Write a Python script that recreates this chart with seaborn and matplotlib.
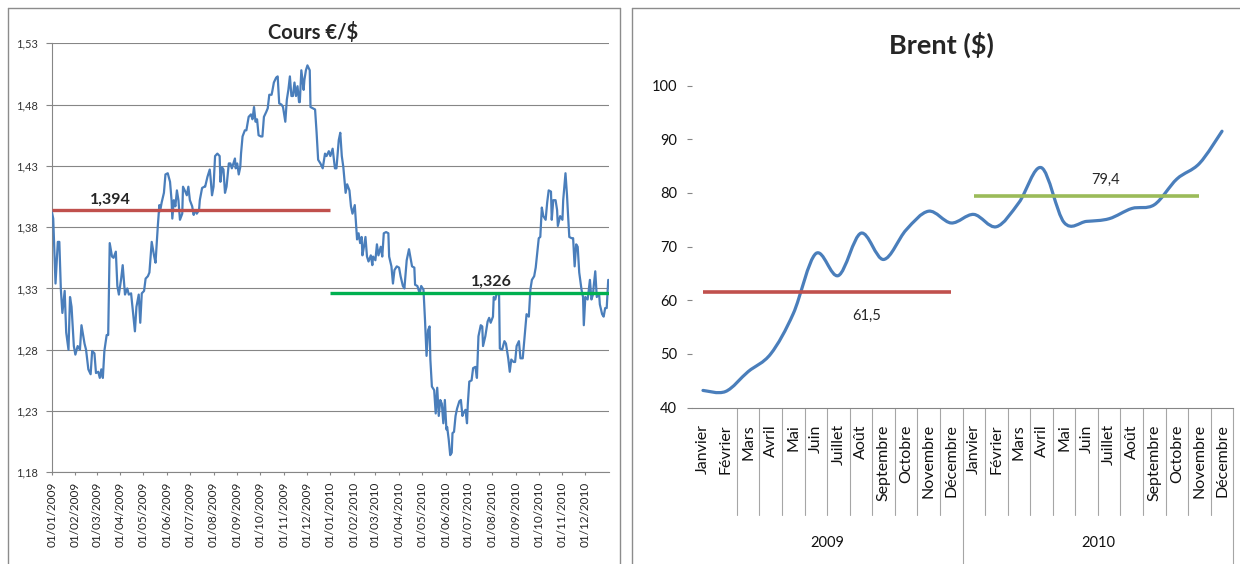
import numpy as np
import pandas as pd
import matplotlib
matplotlib.use("Agg")
import matplotlib.pyplot as plt
import matplotlib.dates as mdates
from matplotlib.path import Path
from matplotlib.patches import PathPatch
from matplotlib.lines import Line2D
import seaborn as sns

# ---------------- DATA ----------------
# EUR/USD: day offsets from 2009-01-01 and rate values
eur_day = [0, 2, 5, 8, 10, 12, 14, 17, 19, 22, 24, 26, 29, 31, 34, 37, 39, 43, 45, 48,
           51, 53, 56, 58, 61, 63, 65, 67, 69, 72, 74, 76, 79, 81, 84, 86, 88, 91, 93, 96,
           99, 101, 104, 107, 109, 111, 114, 116, 118, 121, 123, 126, 128, 131, 134, 136, 139, 141, 142, 144,
           147, 149, 152, 155, 157, 158, 160, 162, 164, 166, 168, 171, 172, 175, 177, 179, 181, 184, 186, 187,
           190, 193, 194, 197, 200, 201, 204, 207, 208, 210, 212, 214, 217, 220, 221, 223, 225, 227, 229, 232,
           234, 236, 238, 240, 241, 243, 245, 247, 248, 250, 253, 255, 258, 261, 263, 265, 267, 269, 271, 274,
           276, 278, 281, 283, 285, 288, 289, 291, 294, 296, 298, 301, 303, 306, 308, 310, 312, 314, 316, 318,
           320, 322, 324, 325, 327, 330, 331, 333, 335, 338, 339,
           345, 347, 349, 352, 355, 358, 360, 363, 365, 368, 371, 373, 376, 378, 380, 382, 385, 387, 390, 392,
           394, 397, 400, 402, 404, 406, 407, 409, 411, 413, 415, 418, 420, 421, 424, 426, 428, 431, 433, 435,
           438, 441, 442, 445, 447, 449, 452, 455, 457, 460, 462, 465, 468, 470, 472, 475, 476, 479, 482, 484,
           487, 489, 491, 493, 495, 496, 498, 501, 503, 505, 507, 509, 511, 513, 515, 517, 518, 520, 522, 524,
           525, 527, 529, 531, 534, 536, 538, 539, 542, 544, 545, 547, 550, 552, 555, 557, 559, 562, 564, 565,
           568, 571, 573, 575, 578, 579, 581, 583, 586, 587, 590, 593, 595, 598, 600, 602, 605, 607, 609, 612,
           614, 617, 620, 622, 625, 627, 629, 632, 634, 636, 638, 640, 642, 644, 647, 649, 651, 654, 655, 657,
           660, 662, 663, 666, 669, 670, 673, 675, 676, 678, 681, 683, 685, 687, 689, 691, 694, 696, 697, 699,
           702, 703, 705, 707, 709, 710, 712, 714, 717, 718, 721, 723, 725, 727, 729]
eur_val = [1.393, 1.387, 1.334, 1.368, 1.368, 1.329, 1.310, 1.328, 1.294, 1.280, 1.323, 1.315, 1.283, 1.276, 1.283, 1.280, 1.300, 1.285, 1.280, 1.264,
           1.260, 1.279, 1.277, 1.261, 1.262, 1.257, 1.264, 1.257, 1.279, 1.292, 1.292, 1.367, 1.356, 1.355, 1.360, 1.332, 1.325, 1.338, 1.349, 1.325,
           1.330, 1.325, 1.326, 1.307, 1.295, 1.315, 1.325, 1.302, 1.326, 1.328, 1.338, 1.340, 1.343, 1.368, 1.357, 1.351, 1.381, 1.398, 1.393, 1.400,
           1.408, 1.423, 1.424, 1.417, 1.402, 1.387, 1.402, 1.397, 1.410, 1.402, 1.386, 1.391, 1.413, 1.409, 1.406, 1.413, 1.402, 1.397, 1.390, 1.394,
           1.391, 1.394, 1.402, 1.412, 1.413, 1.413, 1.421, 1.427, 1.421, 1.406, 1.413, 1.438, 1.440, 1.438, 1.417, 1.429, 1.427, 1.408, 1.413, 1.432,
           1.432, 1.428, 1.432, 1.436, 1.428, 1.432, 1.423, 1.429, 1.440, 1.454, 1.459, 1.459, 1.470, 1.472, 1.468, 1.478, 1.466, 1.468, 1.455, 1.454,
           1.454, 1.470, 1.474, 1.477, 1.488, 1.488, 1.491, 1.498, 1.502, 1.503, 1.481, 1.480, 1.478, 1.466, 1.484, 1.492, 1.503, 1.487, 1.487, 1.498,
           1.487, 1.495, 1.482, 1.482, 1.508, 1.492, 1.500, 1.508, 1.512, 1.508, 1.478,
           1.476, 1.457, 1.435, 1.432, 1.428, 1.440, 1.438, 1.442, 1.438, 1.444, 1.428, 1.428, 1.451, 1.457, 1.438, 1.429, 1.408, 1.415, 1.410, 1.397,
           1.391, 1.398, 1.370, 1.375, 1.367, 1.372, 1.357, 1.364, 1.372, 1.356, 1.352, 1.357, 1.349, 1.356, 1.353, 1.366, 1.357, 1.364, 1.356, 1.375,
           1.376, 1.375, 1.356, 1.348, 1.334, 1.345, 1.348, 1.347, 1.340, 1.332, 1.330, 1.353, 1.362, 1.355, 1.348, 1.347, 1.333, 1.332, 1.326, 1.332,
           1.329, 1.304, 1.275, 1.296, 1.299, 1.272, 1.250, 1.247, 1.228, 1.249, 1.226, 1.239, 1.236, 1.220, 1.239, 1.215, 1.217, 1.207, 1.194, 1.196,
           1.212, 1.213, 1.226, 1.232, 1.238, 1.239, 1.226, 1.228, 1.231, 1.220, 1.235, 1.254, 1.255, 1.265, 1.266, 1.257, 1.291, 1.300, 1.299, 1.283,
           1.291, 1.303, 1.306, 1.302, 1.307, 1.323, 1.321, 1.326, 1.325, 1.281, 1.280, 1.287, 1.285, 1.273, 1.262, 1.272, 1.270, 1.270, 1.283, 1.287,
           1.273, 1.273, 1.294, 1.309, 1.307, 1.329, 1.337, 1.340, 1.347, 1.359, 1.371, 1.372, 1.396, 1.389, 1.386, 1.400, 1.410, 1.409, 1.386, 1.402,
           1.402, 1.394, 1.381, 1.389, 1.386, 1.402, 1.424, 1.406, 1.394, 1.372, 1.371, 1.371, 1.348, 1.366, 1.364, 1.343, 1.329, 1.323, 1.300, 1.323,
           1.321, 1.326, 1.337, 1.321, 1.325, 1.332, 1.344, 1.323, 1.326, 1.317, 1.309, 1.307, 1.314, 1.314, 1.337]
eur_avg_2009 = 1.394
eur_avg_2010 = 1.326
eur_avg_labels = ["1,394", "1,326"]
eur_yticks = [1.18, 1.23, 1.28, 1.33, 1.38, 1.43, 1.48, 1.53]

brent_months = ["Janvier", "Février", "Mars", "Avril", "Mai", "Juin", "Juillet", "Août",
                "Septembre", "Octobre", "Novembre", "Décembre"]
brent_years = ["2009", "2010"]
brent_val = [43.2, 43.0, 46.7, 50.0, 57.5, 68.7, 64.6, 72.5, 67.6, 73.1, 76.6, 74.4,
             76.0, 73.7, 78.2, 84.7, 74.5, 74.7, 75.2, 77.1, 77.8, 82.6, 85.5, 91.5]
brent_avg_2009 = 61.5
brent_avg_2010 = 79.4
brent_avg_labels = ["61,5", "79,4"]
brent_yticks = [40, 50, 60, 70, 80, 90, 100]

# ---------------- STYLE ----------------
sns.set_theme(style="white")
plt.rcParams["font.family"] = ["Lato", "DejaVu Sans"]

W, H = 1240, 564
fig = plt.figure(figsize=(W / 100, H / 100), dpi=100)
fig.patch.set_facecolor("white")


def fx(px):
    return px / W


def fy(py):
    return 1 - py / H


GRID = "#868686"
BORDER = "#8C8C8C"

# ---------------- LEFT: EUR/USD ----------------
ax1 = fig.add_axes([fx(51.7), fy(472.3), 557.3 / W, 429.0 / H])
start = pd.Timestamp("2009-01-01")
eur_dates = start + pd.to_timedelta(eur_day, unit="D")
df_eur = pd.DataFrame({"date": eur_dates, "val": eur_val})
sns.lineplot(data=df_eur, x="date", y="val", ax=ax1, color="#4A7EBB",
             linewidth=1.6, zorder=3)
ax1.plot([pd.Timestamp("2009-01-01"), pd.Timestamp("2010-01-01")], [eur_avg_2009] * 2,
         color="#C0504D", lw=2.4, solid_capstyle="butt", zorder=4)
ax1.plot([pd.Timestamp("2010-01-01"), pd.Timestamp("2011-01-01")], [eur_avg_2010] * 2,
         color="#00B050", lw=2.4, solid_capstyle="butt", zorder=4)
ax1.text(mdates.date2num(pd.Timestamp("2009-03-19")), 1.402, eur_avg_labels[0],
         ha="center", va="center", fontsize=11.5, fontweight="bold", zorder=5)
ax1.text(mdates.date2num(pd.Timestamp("2010-07-31")), 1.3356, eur_avg_labels[1],
         ha="center", va="center", fontsize=11.5, fontweight="bold", zorder=5)

ax1.set_xlim(pd.Timestamp("2009-01-01"), pd.Timestamp("2011-01-01"))
ax1.set_ylim(1.18, 1.53)
ax1.set_yticks(eur_yticks)
ax1.set_yticklabels([f"{v:.2f}".replace(".", ",") for v in eur_yticks])
month_starts = pd.date_range("2009-01-01", "2010-12-01", freq="MS")
ax1.set_xticks(month_starts)
ax1.set_xticklabels([d.strftime("%d/%m/%Y") for d in month_starts], rotation=90)
ax1.set_xlabel("")
ax1.set_ylabel("")
ax1.grid(axis="y", color=GRID, lw=0.8)
ax1.grid(axis="x", visible=False)
ax1.set_axisbelow(True)
for s in ["top", "right"]:
    ax1.spines[s].set_visible(False)
for s in ["left", "bottom"]:
    ax1.spines[s].set_color(GRID)
    ax1.spines[s].set_linewidth(0.8)
ax1.tick_params(axis="y", left=True, length=4, width=0.8, color=GRID, pad=6,
                labelsize=8, labelcolor="#333333", direction="out")
ax1.tick_params(axis="x", bottom=True, length=2.5, width=0.8, color=GRID, pad=4.5,
                labelsize=8.5, labelcolor="#222222", direction="out")

fig.text(fx(313), fy(32), "Cours €/$", ha="center", va="center",
         fontsize=14.5, fontweight="bold")

# ---------------- RIGHT: Brent ----------------
ax2 = fig.add_axes([fx(691.7), fy(407.6), 541.6 / W, 322.0 / H])
xs = np.arange(len(brent_val), dtype=float)
ys = np.asarray(brent_val, dtype=float)
n = len(xs)
verts = [(xs[0], ys[0])]
codes = [Path.MOVETO]
for i in range(n - 1):
    im1 = max(i - 1, 0)
    ip2 = min(i + 2, n - 1)
    c1 = (xs[i] + (xs[i + 1] - xs[im1]) / 6.0, ys[i] + (ys[i + 1] - ys[im1]) / 6.0)
    c2 = (xs[i + 1] - (xs[ip2] - xs[i]) / 6.0, ys[i + 1] - (ys[ip2] - ys[i]) / 6.0)
    verts += [c1, c2, (xs[i + 1], ys[i + 1])]
    codes += [Path.CURVE4, Path.CURVE4, Path.CURVE4]
ax2.add_patch(PathPatch(Path(verts, codes), facecolor="none", edgecolor="#4A7EBB",
                        lw=2.3, capstyle="round", joinstyle="round", zorder=3))

ax2.plot([0, 11], [brent_avg_2009] * 2, color="#C0504D", lw=2.6,
         solid_capstyle="butt", zorder=4)
ax2.plot([12, 22], [brent_avg_2010] * 2, color="#9BBB59", lw=2.6,
         solid_capstyle="butt", zorder=4)
ax2.text(7.25, 57.0, brent_avg_labels[0], ha="center", va="center", fontsize=10.5)
ax2.text(17.83, 82.4, brent_avg_labels[1], ha="center", va="center", fontsize=10.5)

ax2.set_xlim(-0.5, len(brent_val) - 0.5)
ax2.set_ylim(40, 100)
ax2.set_yticks(brent_yticks)
ax2.set_yticklabels([str(v) for v in brent_yticks])
ax2.set_xticks(xs)
ax2.set_xticklabels(brent_months * 2, rotation=90)
ax2.grid(False)
for s in ["top", "right", "left"]:
    ax2.spines[s].set_visible(False)
ax2.spines["bottom"].set_color(GRID)
ax2.spines["bottom"].set_linewidth(0.8)
ax2.tick_params(axis="y", left=True, length=3.6, width=0.8, color=GRID, pad=7,
                labelsize=10.5, labelcolor="#111111", direction="out")
ax2.tick_params(axis="x", bottom=False, length=0, pad=12, labelsize=11.5,
                labelcolor="#111111")

trans = ax2.get_xaxis_transform()
sep_low = -(515 - 407.6) / 322.0
year_low = -(H - 407.6) / 322.0
for k in range(2, len(brent_val) + 1):
    xb = k - 0.5
    low = year_low if k % 12 == 0 else sep_low
    ax2.plot([xb, xb], [0, low], transform=trans, color="#A6A6A6", lw=0.8,
             clip_on=False, zorder=1)
year_y = -(543 - 407.6) / 322.0
ax2.text(5.5, year_y, brent_years[0], transform=trans, ha="center", va="center",
         fontsize=10.5, color="#111111")
ax2.text(17.5, year_y, brent_years[1], transform=trans, ha="center", va="center",
         fontsize=10.5, color="#111111")

fig.text(fx(941), fy(45), "Brent ($)", ha="center", va="center",
         fontsize=19.5, fontweight="bold")

# ---------------- PANEL BORDERS ----------------
def fline(x0, y0, x1, y1):
    fig.add_artist(Line2D([fx(x0), fx(x1)], [fy(y0), fy(y1)], transform=fig.transFigure,
                          color=BORDER, lw=1.0))


fline(8, 8, 8, H)
fline(8, 8, 620, 8)
fline(620, 8, 620, H)
fline(632, 8, 632, H)
fline(632, 8, W, 8)

fig.savefig("out.png", dpi=100, facecolor="white")
